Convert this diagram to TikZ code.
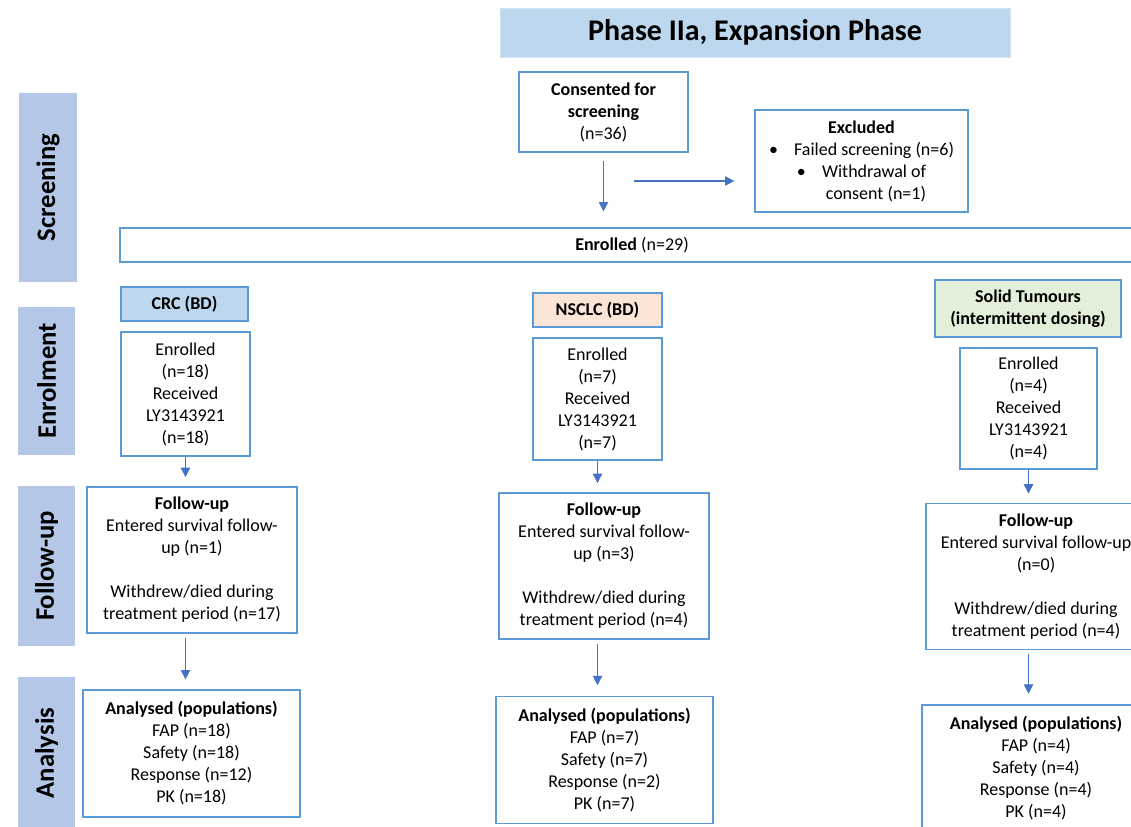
\documentclass[tikz,border=0pt]{standalone}
\usepackage{fontspec}
\setmainfont{Carlito}
\usepackage{xcolor}
\usepackage{tikz}
\usetikzlibrary{arrows.meta, positioning}
\definecolor{cfblue}{HTML}{5B9BD5}
\definecolor{cfarrow}{HTML}{4472C4}
\definecolor{cfbar}{HTML}{B4C7E7}
\definecolor{cftitle}{HTML}{BDD7EE}
\definecolor{cfpeach}{HTML}{FBE5D6}
\definecolor{cfgreen}{HTML}{E2F0D9}

\begin{document}
\begin{tikzpicture}[x=0.75pt, y=-0.75pt,
  every node/.style={font=\fontsize{13.5}{16.5}\selectfont, align=center, inner sep=2pt},
  titlebox/.style={rectangle, fill=cftitle, draw=cftitle!70,
                   font=\bfseries\fontsize{22.5}{26}\selectfont},
  phasebar/.style={rectangle, fill=cfbar, rotate=90, minimum height=43pt,
                   font=\bfseries\fontsize{20}{24}\selectfont},
  stagebox/.style={rectangle, draw=cfblue, line width=0.9pt, fill=white},
  armtag/.style={stagebox, font=\bfseries\fontsize{13.5}{16.5}\selectfont},
  flow/.style={-{Triangle[length=7pt,width=7pt]}, color=cfarrow, line width=0.8pt},
]
\clip (0,0) rectangle (1131,827);

% Title
\node[titlebox, minimum width=382.5pt, minimum height=36.75pt] (title) at (755,32.5)
  {Phase IIa, Expansion Phase};

% Phase bars
\node[phasebar, minimum width=141.75pt] (pscr) at (48,187.5) {Screening};
\node[phasebar, minimum width=111pt]    (penr) at (46.5,381) {Enrolment};
\node[phasebar, minimum width=120pt]    (pfu)  at (46.5,566) {Follow-up};
\node[phasebar, minimum width=114.75pt] (pan)  at (46.5,753) {Analysis};

% ── Screening ──
\node[stagebox, minimum width=126.75pt, minimum height=60pt] (cons) at (603.5,112)
  {\textbf{Consented for}\\\textbf{screening}\\(n=36)};
\node[stagebox, minimum width=159.75pt, minimum height=76.5pt] (excl) at (861.5,161)
  {\textbf{Excluded}\\\textbullet\hspace{0.9em}Failed screening (n=6)\\
   \textbullet\hspace{0.9em}Withdrawal of\\\hspace*{1.6em}consent (n=1)};
\node[stagebox, minimum width=768pt, minimum height=25.5pt] (enr) at (632,245)
  {\textbf{Enrolled} (n=29)};
\coordinate (split) at (634,181);

\draw[flow, shorten <=6pt, shorten >=12pt] (cons.south) -- (cons.south |- enr.north);
\draw[flow, shorten >=15pt] (split) -- (split -| excl.west);

% Arm headings
\node[armtag, fill=cftitle, minimum width=95.25pt, minimum height=25.5pt] (crc) at (184.5,304) {CRC (BD)};
\node[armtag, fill=cfpeach, minimum width=96.75pt, minimum height=25.5pt] (nsc) at (597.5,310) {NSCLC (BD)};
\node[armtag, fill=cfgreen, minimum width=139.5pt, minimum height=42.75pt] (sol) at (1028,308.5)
  {Solid Tumours\\(intermittent dosing)};

% ── CRC arm ──
\node[stagebox, minimum width=96.75pt, minimum height=93pt] (cenr) at (185.5,394)
  {Enrolled\\(n=18)\\Received\\LY3143921\\(n=18)};
\node[stagebox, minimum width=157.5pt, minimum height=109.5pt] (cfu) at (192,560)
  {\textbf{Follow-up}\\Entered survival follow-\\up (n=1)\\[16.5pt]
   Withdrew/died during\\treatment period (n=17)};
\node[stagebox, minimum width=162.75pt, minimum height=95.25pt] (can) at (191.5,753.5)
  {\textbf{Analysed (populations)}\\FAP (n=18)\\Safety (n=18)\\Response (n=12)\\PK (n=18)};

\draw[flow, shorten >=7pt] (cenr.south) -- (cenr.south |- cfu.north);
\draw[flow, shorten <=3pt, shorten >=7.5pt] (cenr.south |- cfu.south) -- (cenr.south |- can.north);

% ── NSCLC arm ──
\node[stagebox, minimum width=96.75pt, minimum height=91.5pt] (nenr) at (597.5,399)
  {Enrolled\\(n=7)\\Received\\LY3143921\\(n=7)};
\node[stagebox, minimum width=157.5pt, minimum height=109.5pt] (nfu) at (604,566)
  {\textbf{Follow-up}\\Entered survival follow-\\up (n=3)\\[16.5pt]
   Withdrew/died during\\treatment period (n=4)};
\node[stagebox, minimum width=162.75pt, minimum height=95.25pt] (nan) at (604.5,760)
  {\textbf{Analysed (populations)}\\FAP (n=7)\\Safety (n=7)\\Response (n=2)\\PK (n=7)};

\draw[flow, shorten >=7pt] (nenr.south) -- (nenr.south |- nfu.north);
\draw[flow, shorten <=3pt, shorten >=8pt] (nenr.south |- nfu.south) -- (nenr.south |- nan.north);

% ── Solid tumours arm ──
\node[stagebox, minimum width=102.75pt, minimum height=90.75pt] (senr) at (1028.5,408.5)
  {Enrolled\\(n=4)\\Received\\LY3143921\\(n=4)};
\node[stagebox, minimum width=165pt, minimum height=109.5pt] (sfu) at (1036,576.5)
  {\textbf{Follow-up}\\Entered survival follow-up\\(n=0)\\[16.5pt]
   Withdrew/died during\\treatment period (n=4)};
\node[stagebox, minimum width=171pt, minimum height=95.25pt] (san) at (1036,768.5)
  {\textbf{Analysed (populations)}\\FAP (n=4)\\Safety (n=4)\\Response (n=4)\\PK (n=4)};

\draw[flow, shorten >=7pt] (senr.south) -- (senr.south |- sfu.north);
\draw[flow, shorten <=3pt, shorten >=8pt] (senr.south |- sfu.south) -- (senr.south |- san.north);

\end{tikzpicture}
\end{document}
